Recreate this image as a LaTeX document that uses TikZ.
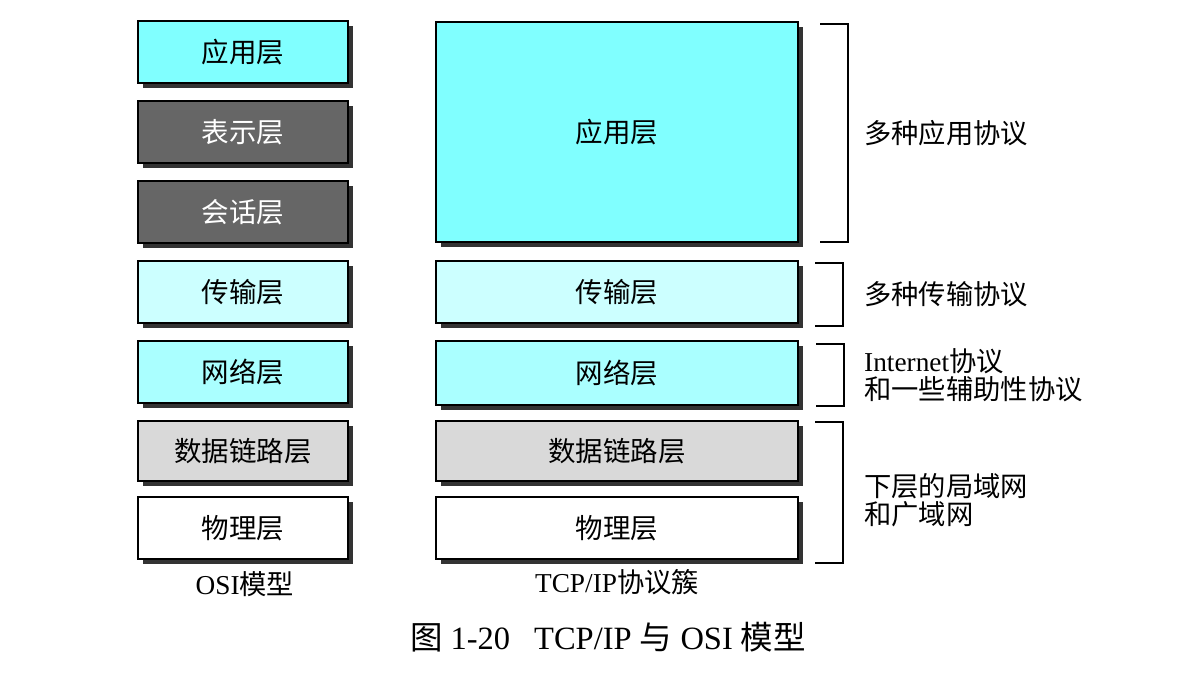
\documentclass[tikz,border=0pt]{standalone}
\usepackage{fontspec}
\setmainfont{Liberation Serif}
\newfontfamily\cjk{Noto Sans CJK SC}
\usetikzlibrary{shadows}
\definecolor{appc}{HTML}{80FFFF}
\definecolor{tranc}{HTML}{CCFFFF}
\definecolor{netc}{HTML}{AAFFFF}
\definecolor{linkc}{HTML}{D9D9D9}
\definecolor{darkc}{HTML}{666666}
\definecolor{shadowc}{HTML}{333333}
\begin{document}
\begin{tikzpicture}[x=1pt,y=-1pt,
  box/.style={draw=black, line width=1.6pt, inner sep=0pt, minimum height=62pt,
    font=\cjk\fontsize{27.5}{30}\selectfont,
    general shadow={fill=shadowc, shadow xshift=5pt, shadow yshift=-5pt}},
  osi/.style={box, minimum width=210pt},
  tcp/.style={box, minimum width=362pt},
  brk/.style={draw=black, line width=1.2pt},
  lbl/.style={anchor=west, inner sep=0pt, align=left, font=\cjk\fontsize{27.3}{28.5}\selectfont},
  captxt/.style={inner sep=0pt, font=\fontsize{27.3}{30}\selectfont}]
\useasboundingbox (0,0) rectangle (1190,686);
% OSI column
\node[osi, fill=appc] (o1) at (243,52) {应用层};
\node[osi, fill=darkc, text=white] (o2) at (243,132) {表示层};
\node[osi, fill=darkc, text=white] (o3) at (243,212) {会话层};
\node[osi, fill=tranc] (o4) at (243,292) {传输层};
\node[osi, fill=netc] (o5) at (243,372) {网络层};
\node[osi, fill=linkc, minimum height=60pt] (o6) at (243,451) {数据链路层};
\node[osi, fill=white] (o7) at (243,528) {物理层};
% TCP/IP column
\node[tcp, fill=appc, minimum height=220pt] (t1) at (617,132) {应用层};
\node[tcp, fill=tranc] (t2) at (617,292) {传输层};
\node[tcp, fill=netc, minimum height=64pt] (t3) at (617,373) {网络层};
\node[tcp, fill=linkc, minimum height=60pt] (t4) at (617,451) {数据链路层};
\node[tcp, fill=white] (t5) at (617,528) {物理层};
% brackets
\coordinate (b1a) at (820,24); \coordinate (b1b) at (848,242);
\coordinate (b2a) at (815,263); \coordinate (b2b) at (843,326);
\coordinate (b3a) at (816,344); \coordinate (b3b) at (844,406);
\coordinate (b4a) at (815,422); \coordinate (b4b) at (843,563);
\draw[brk] (b1a) -| (b1b) -- (b1a |- b1b);
\draw[brk] (b2a) -| (b2b) -- (b2a |- b2b);
\draw[brk] (b3a) -| (b3b) -- (b3a |- b3b);
\draw[brk] (b4a) -| (b4b) -- (b4a |- b4b);
% labels
\node[lbl] (l1) at (864,133) {多种应用协议};
\node[lbl] (l2) at (864,294) {多种传输协议};
\node[lbl] (l3) at (864,375) {{\rmfamily Internet}协议\\和一些辅助性协议};
\node[lbl] (l4) at (864,500) {下层的局域网\\和广域网};
% captions
\node[captxt] (c1) at (245,584) {OSI{\cjk 模型}};
\node[captxt] (c2) at (617,582) {TCP/IP{\cjk 协议簇}};
\node[captxt, font=\fontsize{32.5}{36}\selectfont] (c3) at (608,637) {{\cjk 图}~1-20\hspace{24pt}TCP/IP~{\cjk 与}~OSI~{\cjk 模型}};
\end{tikzpicture}
\end{document}
